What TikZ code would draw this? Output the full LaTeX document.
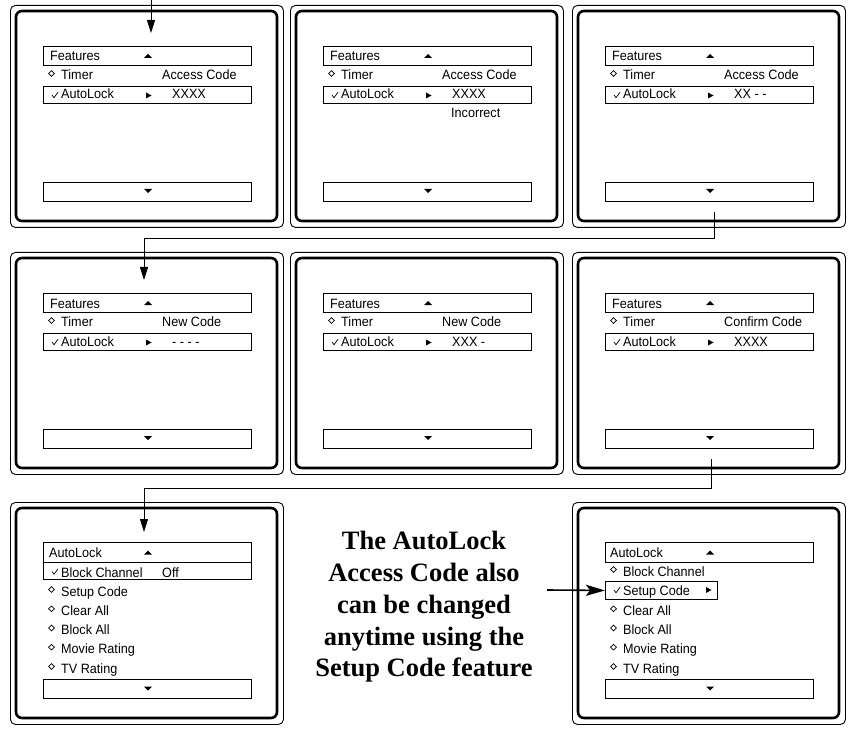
\documentclass[tikz,border=0pt]{standalone}
\usepackage{fontspec}
\setmainfont{Liberation Serif}
\newfontfamily\menufam[FakeStretch=0.935]{Liberation Sans}
\usetikzlibrary{arrows.meta,calc}
\tikzset{
  outerbox/.style={draw, line width=0.9pt, rounded corners=5pt, minimum width=273pt, minimum height=222pt, inner sep=0pt, anchor=north west},
  innerbox/.style={line width=2.6pt, rounded corners=6pt},
  menubox/.style={draw, line width=0.9pt, minimum width=208pt, inner sep=0pt, anchor=north west},
  mtext/.style={inner sep=0pt, anchor=base west, font=\menufam\fontsize{13.5}{15}\selectfont},
  conn/.style={line width=1pt, -{Triangle[length=13pt,width=8pt]}},
  glyph/.style={line width=0.7pt},
  notetext/.style={inner sep=0pt, align=center, font=\fontsize{26.5}{31.7}\selectfont\bfseries},
}
\newcommand\mydia[2]{\draw[glyph] (#1-3,#2) -- (#1,#2-2.8) -- (#1+3,#2) -- (#1,#2+2.8) -- cycle;}
\newcommand\mycheck[2]{\draw[glyph, line join=miter] (#1-3,#2) -- (#1-1,#2+2.7) -- (#1+3,#2-2.7);}
\newcommand\triup[2]{\fill (#1-4,#2+2) -- (#1+4,#2+2) -- (#1,#2-2) -- cycle;}
\newcommand\tridown[2]{\fill (#1-4,#2-2) -- (#1+4,#2-2) -- (#1,#2+2) -- cycle;}
\newcommand\triright[2]{\fill (#1-2.5,#2-3) -- (#1-2.5,#2+3) -- (#1+3,#2) -- cycle;}
\newcommand\myscreen[3]{%
  \node[outerbox] (#1) at (#2,#3) {};
  \draw[innerbox] (#2+6,#3+6) rectangle (#2+267,#3+216);
}
\newcommand\featscreen[5]{%
  \myscreen{#1}{#2}{#3}
  \node[menubox, minimum height=19pt] (#1h) at (#2+33,#3+41) {};
  \node[mtext] (#1ht) at (#2+40,#3+56) {Features};
  \triup{#2+138}{#3+51}
  \mydia{#2+41.5}{#3+68.5}
  \node[mtext] (#1t) at (#2+51,#3+74.5) {Timer};
  \node[mtext] (#1r) at (#2+152,#3+74.5) {#4};
  \node[menubox, minimum height=17pt] (#1a) at (#2+33,#3+81) {};
  \mycheck{#2+45}{#3+90}
  \node[mtext] (#1at) at (#2+51,#3+94) {AutoLock};
  \triright{#2+138.5}{#3+90.5}
  \node[mtext] (#1v) at (#2+162,#3+94) {#5};
  \node[menubox, minimum height=19pt] (#1b) at (#2+33,#3+177) {};
  \tridown{#2+138}{#3+186}
}
\begin{document}
\begin{tikzpicture}[x=1pt,y=-1pt]
\fill[white] (0,0) rectangle (849,730);
\useasboundingbox (0,0) rectangle (849,730);

% row 1
\featscreen{pa}{10}{5}{Access Code}{XXXX}
\featscreen{pb}{290}{5}{Access Code}{XXXX}
\node[mtext] (pbinc) at (290+161,5+113) {Incorrect};
\featscreen{pc}{572}{5}{Access Code}{XX - -}

% row 2
\featscreen{pd}{10}{252}{New Code}{- - - -}
\featscreen{pe}{290}{252}{New Code}{XXX -}
\featscreen{pf}{572}{252}{Confirm Code}{XXXX}

% row 3 left
\myscreen{pg}{10}{502}
\node[menubox, minimum height=20pt] (pgh) at (10+33,502+40) {};
\node[mtext] (pght) at (10+39,502+55) {AutoLock};
\triup{10+138}{502+50.5}
\node[menubox, minimum height=17pt] (pga) at (10+33,502+60) {};
\mycheck{10+45}{502+69.5}
\node[mtext] (pgat) at (10+51,502+75) {Block Channel};
\node[mtext] (pgv) at (10+152,502+75) {Off};
\foreach \t/\yy [count=\i] in {Setup Code/94, Clear All/113.3, Block All/132.5, Movie Rating/151.7, TV Rating/171}{
  \mydia{10+41.5}{502+\yy-6.5}
  \node[mtext] (pgl\i) at (10+51,502+\yy) {\t};
}
\node[menubox, minimum height=19pt] (pgb) at (10+33,502+176.5) {};
\tridown{10+138}{502+186.5}

% row 3 right
\myscreen{pi}{572}{502}
\node[menubox, minimum height=20pt] (pih) at (572+33,502+40) {};
\node[mtext] (piht) at (572+38,502+55) {AutoLock};
\triup{572+138}{502+50.5}
\mydia{572+41.5}{502+67.5}
\node[mtext] (pibc) at (572+51,502+74) {Block Channel};
\node[menubox, minimum width=112pt, minimum height=18pt] (pis) at (572+33,502+79) {};
\mycheck{572+45}{502+88}
\node[mtext] (pist) at (572+51,502+93) {Setup Code};
\triright{572+136.5}{502+88}
\foreach \t/\yy [count=\i] in {Clear All/113.3, Block All/132.5, Movie Rating/151.7, TV Rating/171}{
  \mydia{572+41.5}{502+\yy-6.5}
  \node[mtext] (pil\i) at (572+51,502+\yy) {\t};
}
\node[menubox, minimum height=19pt] (pib) at (572+33,502+176.5) {};
\tridown{572+138}{502+186.5}

% note text
\node[notetext] (note) at (424,607) {The AutoLock\\Access Code also\\can be changed\\anytime using the\\Setup Code feature};

% connectors
\coordinate (c1s) at (151,0);
\coordinate (c1e) at (151,33);
\draw[conn] (c1s) -- (c1e);

\coordinate (c2s) at (714,212);
\coordinate (c2e) at (144,280);
\draw[conn] (c2s) -- ++(0,27) -| (c2e);

\coordinate (c3s) at (711,459);
\coordinate (c3e) at (144,532);
\draw[conn] (c3s) -- ++(0,29) -| (c3e);

\coordinate (c4s) at (547,590);
\draw[line width=1.6pt, -{Stealth[length=19pt,width=11pt,inset=4pt]}] (c4s) -- (pis.west);
\end{tikzpicture}
\end{document}
